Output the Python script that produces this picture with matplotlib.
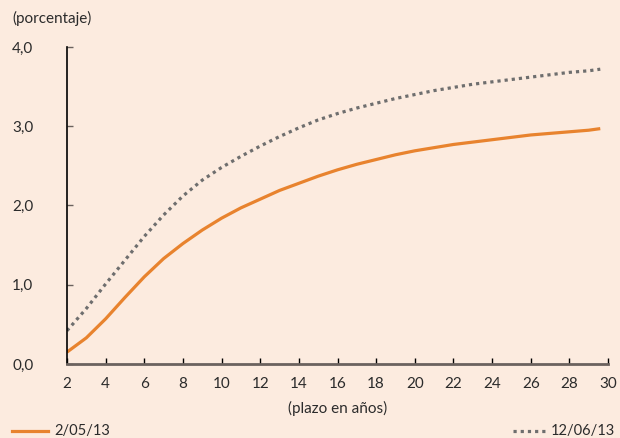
"""Curva de rendimientos: 2/05/13 frente a 12/06/13."""

import matplotlib.pyplot as plt
from matplotlib.lines import Line2D

# Data (plazo en años, porcentaje)
plazo = [2, 3, 4, 5, 6, 7, 8, 9, 10, 11, 12, 13, 14, 15, 16, 17, 18, 19, 20,
         21, 22, 23, 24, 25, 26, 27, 28, 29, 29.6]
curva_mayo = [0.15, 0.33, 0.57, 0.84, 1.10, 1.33, 1.52, 1.69, 1.84, 1.97, 2.08,
              2.19, 2.28, 2.37, 2.45, 2.52, 2.58, 2.64, 2.69, 2.73, 2.77, 2.80,
              2.83, 2.86, 2.89, 2.91, 2.93, 2.95, 2.97]
curva_junio = [0.42, 0.70, 1.01, 1.31, 1.61, 1.88, 2.12, 2.32, 2.48, 2.62, 2.75,
               2.87, 2.98, 3.08, 3.16, 3.23, 3.29, 3.35, 3.40, 3.45, 3.49, 3.53,
               3.56, 3.59, 3.62, 3.65, 3.68, 3.70, 3.72]
labels = ['2/05/13', '12/06/13']
xticks = list(range(2, 31, 2))
yticks = [0, 1, 2, 3, 4]

BG = '#fcebdf'
ORANGE = '#e8832e'
GREY = '#6e6e6e'
TXT = '#2b2b2b'
DOTS = (0, (1, 1.25))

plt.rcParams['font.family'] = ['Lato', 'DejaVu Sans']
plt.rcParams['font.size'] = 11

fig = plt.figure(figsize=(6.2, 4.38), dpi=100, facecolor=BG)
ax = fig.add_axes([67 / 620, 1 - 364 / 438, 541 / 620, 317 / 438])
ax.set_facecolor(BG)

ax.plot(plazo, curva_mayo, color=ORANGE, lw=2.3, solid_capstyle='butt')
ax.plot(plazo, curva_junio, color=GREY, lw=2.3, linestyle=DOTS)

ax.set_xlim(2, 30)
ax.set_ylim(0, 4)
ax.set_xticks(xticks)
ax.set_xticklabels([str(t) for t in xticks])
ax.set_yticks(yticks)
ax.set_yticklabels([f'{t:.1f}'.replace('.', ',') for t in yticks], ha='left')

for side in ('top', 'right'):
    ax.spines[side].set_visible(False)
ax.spines['left'].set_color('black')
ax.spines['left'].set_linewidth(1.2)
ax.spines['bottom'].set_color('#6b625e')
ax.spines['bottom'].set_linewidth(2)

ax.tick_params(axis='x', direction='in', length=4, width=1, color='black',
               pad=9, labelcolor=TXT)
ax.tick_params(axis='y', direction='in', length=4, width=1, color='#6b625e',
               pad=39.5, labelcolor=TXT)

fig.text(12 / 620, 1 - 18 / 438, '(porcentaje)', ha='left', va='center', color=TXT)
fig.text(338 / 620, 1 - 408 / 438, '(plazo en años)', ha='center', va='center', color=TXT)

# bottom legend, one entry at each side
fig.add_artist(Line2D([12 / 620, 48 / 620], [1 - 431 / 438] * 2, color=ORANGE, lw=2.3))
fig.text(54 / 620, 1 - 431 / 438, labels[0], ha='left', va='center', color=TXT,
         fontsize=10.5)
fig.add_artist(Line2D([513 / 620, 548 / 620], [1 - 431 / 438] * 2, color=GREY,
                      lw=2.3, linestyle=DOTS))
fig.text(615 / 620, 1 - 431 / 438, labels[1], ha='right', va='center', color=TXT,
         fontsize=10.5)

fig.savefig('out.png', dpi=100, facecolor=BG)
